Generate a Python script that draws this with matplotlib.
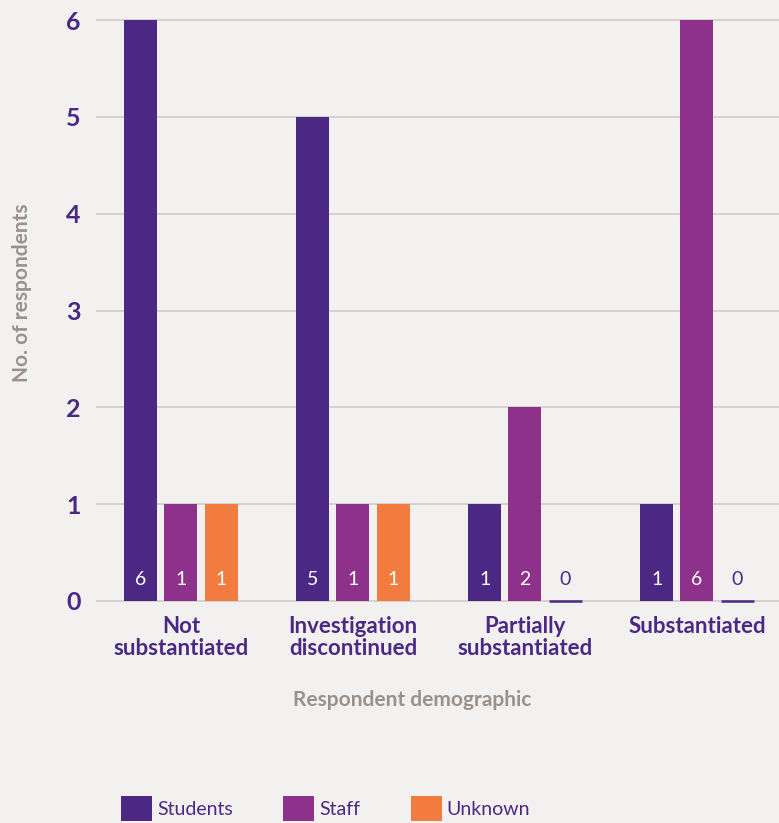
import numpy as np
import matplotlib
matplotlib.use("Agg")
import matplotlib.pyplot as plt
from matplotlib.patches import Patch

plt.rcParams['font.family'] = ['Lato', 'DejaVu Sans']

categories = ["Not\nsubstantiated", "Investigation\ndiscontinued",
              "Partially\nsubstantiated", "Substantiated"]
series_names = ["Students", "Staff", "Unknown"]
students = [6, 5, 1, 1]
staff = [1, 1, 2, 6]
unknown = [1, 1, 0, 0]
y_ticks = [0, 1, 2, 3, 4, 5, 6]

colors = ['#4c2885', '#8e318b', '#f27b40']
purple = '#4c2885'
gray_text = '#9b918b'
grid_col = '#d3cec9'
bg = '#f2f1ef'

fig = plt.figure(figsize=(7.79, 8.23), dpi=100, facecolor=bg)
ax = fig.add_axes([96 / 779, 0.2639, 1 - 96 / 779, 0.7176], facecolor=bg)

x = np.arange(len(categories))
width = 0.192
offset = 0.233

for i, (vals, col) in enumerate(zip([students, staff, unknown], colors)):
    xs = x + (i - 1) * offset
    ax.bar(xs, vals, width, color=col, zorder=3, label=series_names[i])
    for xi, v in zip(xs, vals):
        txt_col = 'white'
        if v == 0:
            # zero values shown as a thin line on the baseline
            ax.plot([xi - width / 2, xi + width / 2], [v, v], color=purple, lw=1.8,
                    zorder=4, solid_capstyle='butt')
            txt_col = purple
        ax.text(xi, 0.22, str(v), ha='center', va='center', color=txt_col,
                fontsize=14, fontweight='normal', zorder=5)

ax.set_xlim(-0.494, 3.477)
ax.set_ylim(-0.05, 6.05)
ax.set_yticks(y_ticks)
ax.yaxis.grid(True, color=grid_col, lw=1.3, zorder=0)
ax.set_axisbelow(True)
for s in ax.spines.values():
    s.set_visible(False)

ax.set_xticks(x)
ax.set_xticklabels(categories, fontsize=16, fontweight='bold', color=purple,
                   linespacing=1.1)
ax.tick_params(axis='x', length=0, pad=7)
ax.tick_params(axis='y', length=0, pad=11, labelsize=18, labelcolor=purple)
for lab in ax.get_yticklabels():
    lab.set_fontweight('bold')

fig.text(22 / 779, 1 - 293 / 823, "No. of respondents", rotation=90,
         ha='center', va='center', color=gray_text, fontsize=15, fontweight='bold')
fig.text(412 / 779, 1 - 700 / 823, "Respondent demographic",
         ha='center', va='center', color=gray_text, fontsize=15, fontweight='bold')

handles = [Patch(facecolor=c, edgecolor='none') for c in colors]
leg = fig.legend(handles, series_names, loc='upper left',
                 bbox_to_anchor=(121 / 779, 1 - 796 / 823),
                 ncol=3, frameon=False, fontsize=14, handlelength=1.6,
                 handleheight=1.6, handletextpad=0.25, columnspacing=2.6,
                 borderpad=0, borderaxespad=0)
for t in leg.get_texts():
    t.set_color(purple)

fig.savefig("out.png", dpi=100, facecolor=bg)
